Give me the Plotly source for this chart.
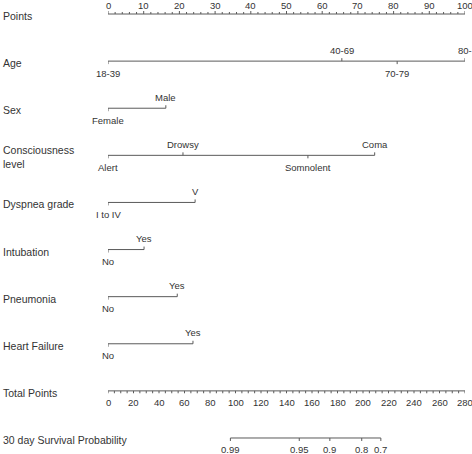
import plotly.graph_objects as go

# ---- data ----
row_names = ["Points", "Age", "Sex", "Consciousness<br>level", "Dyspnea grade",
             "Intubation", "Pneumonia", "Heart Failure", "Total Points",
             "30 day Survival Probability"]

points_major = list(range(0, 101, 10))
points_minor = list(range(0, 101, 2))

age_labels = ["18-39", "40-69", "70-79", "80-"]
age_points = [0, 65.5, 81, 100]
age_side = [-1, 1, -1, 1]

sex_labels = ["Female", "Male"]
sex_points = [0, 16.2]
sex_side = [-1, 1]

cons_labels = ["Alert", "Drowsy", "Somnolent", "Coma"]
cons_points = [0, 21, 56, 74.7]
cons_side = [-1, 1, -1, 1]

dysp_labels = ["I to IV", "V"]
dysp_points = [0, 24.4]
dysp_side = [-1, 1]

intub_labels = ["No", "Yes"]
intub_points = [0, 10.1]
intub_side = [-1, 1]

pneu_labels = ["No", "Yes"]
pneu_points = [0, 19.4]
pneu_side = [-1, 1]

hf_labels = ["No", "Yes"]
hf_points = [0, 23.8]
hf_side = [-1, 1]

total_major = list(range(0, 281, 20))
total_minor = list(range(0, 281, 5))

surv_labels = ["0.99", "0.95", "0.9", "0.8", "0.7"]
surv_total = [96, 150, 174, 199, 214]

# ---- layout constants ----
W, H = 472, 454
ROW_PX = 47.11
TOP_PX = 14
y_top = -TOP_PX / ROW_PX
y_bot = (H - TOP_PX) / ROW_PX
TICK = 3 / ROW_PX
LINE_COL = "#5a5a5a"
TXT_COL = "#333333"
FONT = "Liberation Sans, Arial, sans-serif"

fig = go.Figure()


def add_scale(row, xs, labels, sides, axis="x"):
    fig.add_trace(go.Scatter(x=[min(xs), max(xs)], y=[row, row], mode="lines",
                             line=dict(color=LINE_COL, width=1), xaxis=axis,
                             hoverinfo="skip", showlegend=False))
    tx, ty = [], []
    for x, s in zip(xs, sides):
        tx += [x, x, None]
        ty += [row, row - s * TICK, None]
    fig.add_trace(go.Scatter(x=tx, y=ty, mode="lines",
                             line=dict(color=LINE_COL, width=1), xaxis=axis,
                             hoverinfo="skip", showlegend=False))
    for x, lab, s in zip(xs, labels, sides):
        fig.add_annotation(x=x, y=row, xref=axis, yref="y", text=lab,
                           showarrow=False, xanchor="center",
                           yanchor="middle", yshift=11 if s > 0 else -12,
                           font=dict(size=9.5, color=TXT_COL, family=FONT))


# Points axis (ticks up, labels above)
fig.add_trace(go.Scatter(x=[0, 100], y=[0, 0], mode="lines",
                         line=dict(color=LINE_COL, width=1),
                         hoverinfo="skip", showlegend=False))
tx, ty = [], []
for v in points_minor:
    L = TICK if v in points_major else TICK * 0.67
    tx += [v, v, None]
    ty += [0, -L, None]
fig.add_trace(go.Scatter(x=tx, y=ty, mode="lines",
                         line=dict(color=LINE_COL, width=1),
                         hoverinfo="skip", showlegend=False))
for v in points_major:
    fig.add_annotation(x=v, y=0, xref="x", yref="y", text=str(v),
                       showarrow=False, yanchor="middle", yshift=9,
                       font=dict(size=9.5, color=TXT_COL, family=FONT))

add_scale(1, age_points, age_labels, age_side)
add_scale(2, sex_points, sex_labels, sex_side)
add_scale(3, cons_points, cons_labels, cons_side)
add_scale(4, dysp_points, dysp_labels, dysp_side)
add_scale(5, intub_points, intub_labels, intub_side)
add_scale(6, pneu_points, pneu_labels, pneu_side)
add_scale(7, hf_points, hf_labels, hf_side)

# Total points axis (ticks down, labels below) on x2
fig.add_trace(go.Scatter(x=[0, 280], y=[8, 8], mode="lines", xaxis="x2",
                         line=dict(color=LINE_COL, width=1),
                         hoverinfo="skip", showlegend=False))
tx, ty = [], []
for v in total_minor:
    tx += [v, v, None]
    ty += [8, 8 + TICK * 0.8, None]
fig.add_trace(go.Scatter(x=tx, y=ty, mode="lines", xaxis="x2",
                         line=dict(color=LINE_COL, width=1),
                         hoverinfo="skip", showlegend=False))
for v in total_major:
    fig.add_annotation(x=v, y=8, xref="x2", yref="y", text=str(v),
                       showarrow=False, yanchor="middle", yshift=-12,
                       font=dict(size=9.5, color=TXT_COL, family=FONT))

# Survival probability
add_scale(9, surv_total, surv_labels, [-1] * len(surv_total), axis="x2")

# Row names
for i, name in enumerate(row_names):
    fig.add_annotation(x=0, y=i, xref="paper", yref="y", text=name,
                       showarrow=False, xanchor="left", align="left",
                       yanchor="middle", xshift=-107, yshift=-2,
                       font=dict(size=10.5, color=TXT_COL, family=FONT))

fig.update_layout(
    width=W, height=H,
    margin=dict(l=108, r=7, t=0, b=0),
    paper_bgcolor="white", plot_bgcolor="white",
    showlegend=False,
    xaxis=dict(range=[0, 100], visible=False, fixedrange=True),
    xaxis2=dict(range=[0, 280], overlaying="x", visible=False, fixedrange=True),
    yaxis=dict(range=[y_bot, y_top], visible=False, fixedrange=True),
)

fig.write_html("out.html", config={"displayModeBar": False},
               post_script="document.body.style.margin='0';"
                           "document.body.style.overflow='hidden';")
